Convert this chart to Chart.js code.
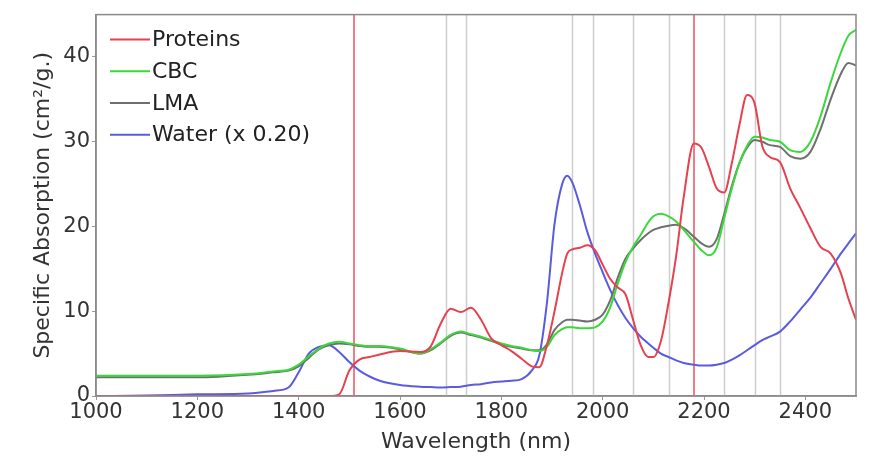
<!DOCTYPE html>
<html>
<head>
<meta charset="utf-8">
<script src="https://cdn.jsdelivr.net/npm/chart.js@4/dist/chart.umd.min.js"></script>
<style>
    html, body { margin: 0; padding: 0; background: #fff; }
    #wrap { width: 869px; height: 458px; position: relative; }
</style>
</head>
<body>
<div id="wrap"><canvas id="absChart"></canvas></div>
<script>
// wavelength grid (nm) shared by all series
const wavelengths = [
    1000, 1100, 1200, 1300, 1350, 1380, 1400, 1420, 1440, 1460,
    1480, 1500, 1520, 1540, 1560, 1600, 1640, 1660, 1680, 1700,
    1720, 1740, 1760, 1780, 1800, 1820, 1840, 1860, 1875, 1890,
    1905, 1920, 1930, 1940, 1955, 1970, 1985, 2000, 2015, 2030,
    2045, 2060, 2075, 2090, 2100, 2115, 2130, 2145, 2160, 2180,
    2195, 2210, 2225, 2240, 2255, 2270, 2285, 2300, 2315, 2330,
    2350, 2370, 2390, 2410, 2430, 2450, 2470, 2485, 2500
];

const proteins = [
    0, 0, 0, 0, 0, 0, 0, 0, 0, 0,
    0.2, 3.0, 4.3, 4.6, 4.9, 5.3, 5.2, 5.8, 8.5, 10.3,
    9.9, 10.4, 9.0, 6.8, 6.0, 5.3, 4.4, 3.5, 3.4, 6.0,
    10.0, 14.5, 16.8, 17.3, 17.5, 17.8, 17.2, 15.5, 13.8, 12.8,
    12.0, 9.0, 6.0, 4.6, 4.6, 6.5, 11.0, 16.5, 23.5, 29.8,
    29.3, 27.0, 24.5, 24.0, 27.5, 32.0, 35.5, 34.5, 29.5, 28.2,
    27.6, 24.5, 22.2, 19.8, 17.6, 16.8, 14.5, 11.5, 9.0
];

const cbc = [
    2.4, 2.4, 2.4, 2.6, 2.9, 3.1, 3.7, 4.7, 5.6, 6.2,
    6.4, 6.2, 6.0, 5.9, 5.9, 5.6, 5.0, 5.5, 6.3, 7.2,
    7.6, 7.3, 7.0, 6.6, 6.2, 5.9, 5.7, 5.4, 5.3, 5.8,
    7.2, 7.9, 8.1, 8.1, 8.0, 8.0, 8.1, 8.8, 10.5, 13.3,
    15.8, 17.6, 19.0, 20.5, 21.2, 21.5, 21.2, 20.6, 19.6, 18.2,
    17.2, 16.6, 17.5, 21.0, 24.5, 27.5, 29.5, 30.6, 30.5, 30.2,
    30.0, 29.0, 28.8, 30.0, 33.0, 37.0, 40.5, 42.5, 43.2
];

const lma = [
    2.2, 2.2, 2.2, 2.5, 2.8, 3.0, 3.5, 4.5, 5.5, 6.0,
    6.2, 6.1, 5.9, 5.8, 5.8, 5.5, 5.0, 5.4, 6.2, 7.1,
    7.5, 7.2, 6.9, 6.5, 6.1, 5.8, 5.6, 5.4, 5.4, 6.1,
    7.8, 8.7, 9.0, 9.0, 8.9, 8.8, 9.0, 9.6, 11.3, 14.0,
    16.2, 17.4, 18.4, 19.2, 19.6, 19.9, 20.1, 20.2, 19.8, 18.8,
    18.0, 17.6, 18.5, 21.5, 24.8, 27.5, 29.3, 30.2, 30.0, 29.6,
    29.4, 28.3, 28.0, 28.8, 31.5, 35.0, 38.0, 39.3, 39.0
];

// water absorption already scaled by 0.20
const water = [
    0, 0.05, 0.2, 0.3, 0.6, 1.0, 2.8, 5.0, 5.8, 6.0,
    5.2, 4.0, 3.0, 2.3, 1.8, 1.3, 1.1, 1.05, 1.0, 1.05,
    1.1, 1.3, 1.4, 1.6, 1.7, 1.8, 2.0, 3.0, 4.8, 11.0,
    20.3, 25.0, 26.0, 25.2, 22.5, 19.3, 16.8, 14.6, 12.5, 10.7,
    9.2, 8.0, 7.0, 6.2, 5.7, 5.0, 4.6, 4.2, 3.9, 3.7,
    3.6, 3.6, 3.7, 3.9, 4.3, 4.8, 5.4, 6.0, 6.6, 7.0,
    7.6, 8.8, 10.2, 11.6, 13.3, 15.0, 16.8, 18.0, 19.2
];

// absorption band positions (nm)
const proteinBands = [1510, 2180];
const otherBands = [1690, 1730, 1940, 1980, 2060, 2130, 2240, 2300, 2350];

const xTicks = [1000, 1200, 1400, 1600, 1800, 2000, 2200, 2400];
const yTicks = [0, 10, 20, 30, 40];

const FONT = "'DejaVu Sans', sans-serif";

const seriesInfo = [
    { label: 'Proteins', data: proteins, color: '#e5414e' },
    { label: 'CBC', data: cbc, color: '#3bd83b' },
    { label: 'LMA', data: lma, color: '#6f6f6f' },
    { label: 'Water (x 0.20)', data: water, color: '#5b5be0' }
];

const toPoints = vals => wavelengths.map((w, i) => ({ x: w, y: vals[i] }));

// band lines behind the curves + frame
const bandPlugin = {
    id: 'bands',
    beforeDatasetsDraw(chart) {
        const { ctx, chartArea: a, scales: { x } } = chart;
        ctx.save();
        ctx.lineWidth = 1.5;
        ctx.strokeStyle = '#cdcdcd';
        otherBands.forEach(nm => {
            const px = Math.round(x.getPixelForValue(nm)) + 0.5;
            ctx.beginPath();
            ctx.moveTo(px, a.top);
            ctx.lineTo(px, a.bottom);
            ctx.stroke();
        });
        ctx.lineWidth = 2;
        ctx.strokeStyle = '#f07c87';
        proteinBands.forEach(nm => {
            const px = Math.round(x.getPixelForValue(nm));
            ctx.beginPath();
            ctx.moveTo(px, a.top);
            ctx.lineTo(px, a.bottom);
            ctx.stroke();
        });
        ctx.restore();
    },
    afterDatasetsDraw(chart) {
        const { ctx, chartArea: a } = chart;
        ctx.save();
        ctx.strokeStyle = '#8a8a8a';
        ctx.lineWidth = 1.5;
        ctx.strokeRect(a.left, a.top, a.right - a.left, a.bottom - a.top);
        ctx.restore();
    }
};

// legend drawn inside the top-left corner of the plot
const insideLegend = {
    id: 'insideLegend',
    afterDraw(chart) {
        const { ctx, chartArea: a } = chart;
        ctx.save();
        ctx.font = '22px ' + FONT;
        ctx.textBaseline = 'middle';
        seriesInfo.forEach((s, i) => {
            const y = a.top + 25 + i * 31.7;
            ctx.strokeStyle = s.color;
            ctx.lineWidth = 2;
            ctx.beginPath();
            ctx.moveTo(a.left + 14, y);
            ctx.lineTo(a.left + 54, y);
            ctx.stroke();
            ctx.fillStyle = '#222';
            ctx.fillText(s.label, a.left + 56, y + 1);
        });
        ctx.restore();
    }
};

new Chart(document.getElementById('absChart'), {
    type: 'line',
    data: {
        datasets: seriesInfo.map(s => ({
            label: s.label,
            data: toPoints(s.data),
            borderColor: s.color,
            backgroundColor: s.color,
            borderWidth: 2,
            pointRadius: 0,
            fill: false,
            cubicInterpolationMode: 'monotone'
        }))
    },
    options: {
        responsive: true,
        maintainAspectRatio: false,
        animation: false,
        layout: { padding: { top: 7, right: 13, left: 0, bottom: 0 } },
        plugins: {
            legend: { display: false },
            tooltip: { enabled: false }
        },
        scales: {
            x: {
                type: 'linear',
                min: 1000,
                max: 2500,
                afterBuildTicks: scale => { scale.ticks = xTicks.map(v => ({ value: v })); },
                afterFit: scale => { scale.height = 62; },
                grid: { display: true, drawOnChartArea: false, tickLength: 4, color: '#999' },
                border: { display: true, color: '#8a8a8a', width: 1.5 },
                ticks: {
                    font: { family: FONT, size: 21 },
                    color: '#333',
                    maxRotation: 0,
                    autoSkip: false,
                    padding: 0,
                    callback: v => String(v)
                },
                title: {
                    display: true,
                    text: 'Wavelength (nm)',
                    font: { family: FONT, size: 22 },
                    color: '#333',
                    padding: { top: 0, bottom: 3 }
                }
            },
            y: {
                type: 'linear',
                min: 0,
                max: 45,
                afterBuildTicks: scale => { scale.ticks = yTicks.map(v => ({ value: v })); },
                afterFit: scale => { scale.width = 96; },
                grid: { display: true, drawOnChartArea: false, tickLength: 4, color: '#999' },
                border: { display: true, color: '#8a8a8a', width: 1.5 },
                ticks: {
                    font: { family: FONT, size: 21 },
                    color: '#333',
                    padding: 2,
                    callback: v => String(v)
                },
                title: {
                    display: true,
                    text: 'Specific Absorption (cm\u00b2/g.)',
                    font: { family: FONT, size: 22 },
                    color: '#333',
                    padding: { top: 30, bottom: 0 }
                }
            }
        }
    },
    plugins: [bandPlugin, insideLegend]
});
</script>
</body>
</html>
